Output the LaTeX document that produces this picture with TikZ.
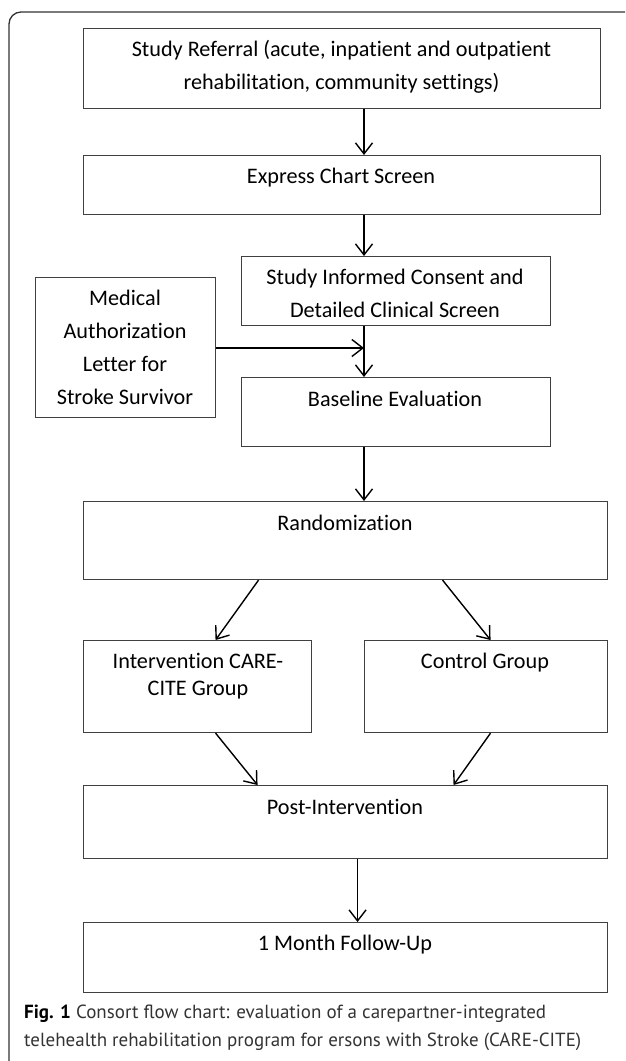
\documentclass[tikz,border=0pt]{standalone}
\usepackage{fontspec}
\setmainfont{Carlito}[Ligatures=CommonOff]
\newfontfamily\capfont{PT Sans}
\usetikzlibrary{positioning,arrows.meta}

\begin{document}
\begin{tikzpicture}
  [x=1pt, y=-1pt,
   box/.style={draw=black!75,
               line width=1.1pt,
               anchor=north west,
               inner sep=0pt},
   txt/.style={align=center,
               inner sep=0pt,
               font=\fontsize{22.2}{33}\selectfont},
   arr/.style={-{Straight Barb[length=11pt,width=17pt]},
               line width=1.4pt},
   frame/.style={draw=black!80,
                 line width=1.3pt,
                 rounded corners=12pt}]
  \useasboundingbox (0,0) rectangle (625,1061);
  \draw[frame] (9,1061) -- (9,12) -- (625,12);

  % boxes
  \node[box, minimum width=517pt, minimum height=80pt] (refer) at (83,28) {};
  \node[box, minimum width=517pt, minimum height=59pt] (express) at (83,155) {};
  \node[box, minimum width=309pt, minimum height=69pt] (consent) at (241,256) {};
  \node[box, minimum width=180pt, minimum height=140pt] (medical) at (35,277) {};
  \node[box, minimum width=309pt, minimum height=69pt] (baseline) at (241,377) {};
  \node[box, minimum width=524pt, minimum height=78pt] (rand) at (83,501) {};
  \node[box, minimum width=228pt, minimum height=92pt] (interv) at (83,640) {};
  \node[box, minimum width=243pt, minimum height=92pt] (control) at (364,640) {};
  \node[box, minimum width=524pt, minimum height=73pt] (post) at (83,785) {};
  \node[box, minimum width=524pt, minimum height=70pt] (follow) at (83,922) {};

  % texts
  \node[txt] (refertxt) at (341.5,66.5)
    {Study Referral (acute, inpatient and outpatient\\ rehabilitation, community settings)};
  \node[txt] (expresstxt) at (341,178) {Express Chart Screen};
  \node[txt] (consenttxt) at (395,293.5)
    {Study Informed Consent and\\ Detailed Clinical Screen};
  \node[txt] (medicaltxt) at (125,347.5)
    {Medical\\ Authorization\\ Letter for\\ Stroke Survivor};
  \node[txt] (baselinetxt) at (395,399) {Baseline Evaluation};
  \node[txt] (randtxt) at (345,523) {Randomization};
  \node[txt, font=\fontsize{22.2}{27}\selectfont] (intervtxt) at (198,676.5)
    {Intervention CARE-\\ CITE Group};
  \node[txt] (controltxt) at (485,663) {Control Group};
  \node[txt] (posttxt) at (345,807) {Post-Intervention};
  \node[txt] (followtxt) at (345,945) {1 Month Follow-Up};

  % connectors
  \coordinate (spine) at (364,0);
  \coordinate (join) at (364,348);
  \draw[arr] (refer.south -| spine) -- (express.north -| spine);
  \draw[arr] (express.south -| spine) -- (consent.north -| spine);
  \draw[arr] (consent.south -| spine) -- (baseline.north -| spine);
  \draw[arr] (medical.east |- join) -- (join);
  \draw[arr] (baseline.south -| spine) -- (rand.north -| spine);
  \draw[arr] ([xshift=-87pt]rand.south) -- ([xshift=18pt]interv.north);
  \draw[arr] ([xshift=97pt]rand.south) -- ([xshift=4.5pt]control.north);
  \draw[arr] ([xshift=18pt]interv.south) -- ([xshift=-88pt]post.north);
  \draw[arr] ([xshift=4.5pt]control.south) -- ([xshift=108pt]post.north);
  \draw[arr] ([xshift=12pt]post.south) -- ([xshift=12pt]follow.north);

  % caption
  \node[anchor=north west, align=left, inner sep=0pt, text=black!80,
        font=\capfont\fontsize{19}{28}\selectfont] (cap) at (24,1005)
    {\textbf{\color{black}Fig. 1} Consort flow chart: evaluation of a carepartner-integrated\\
     telehealth rehabilitation program for ersons with Stroke (CARE-CITE)};
\end{tikzpicture}
\end{document}
